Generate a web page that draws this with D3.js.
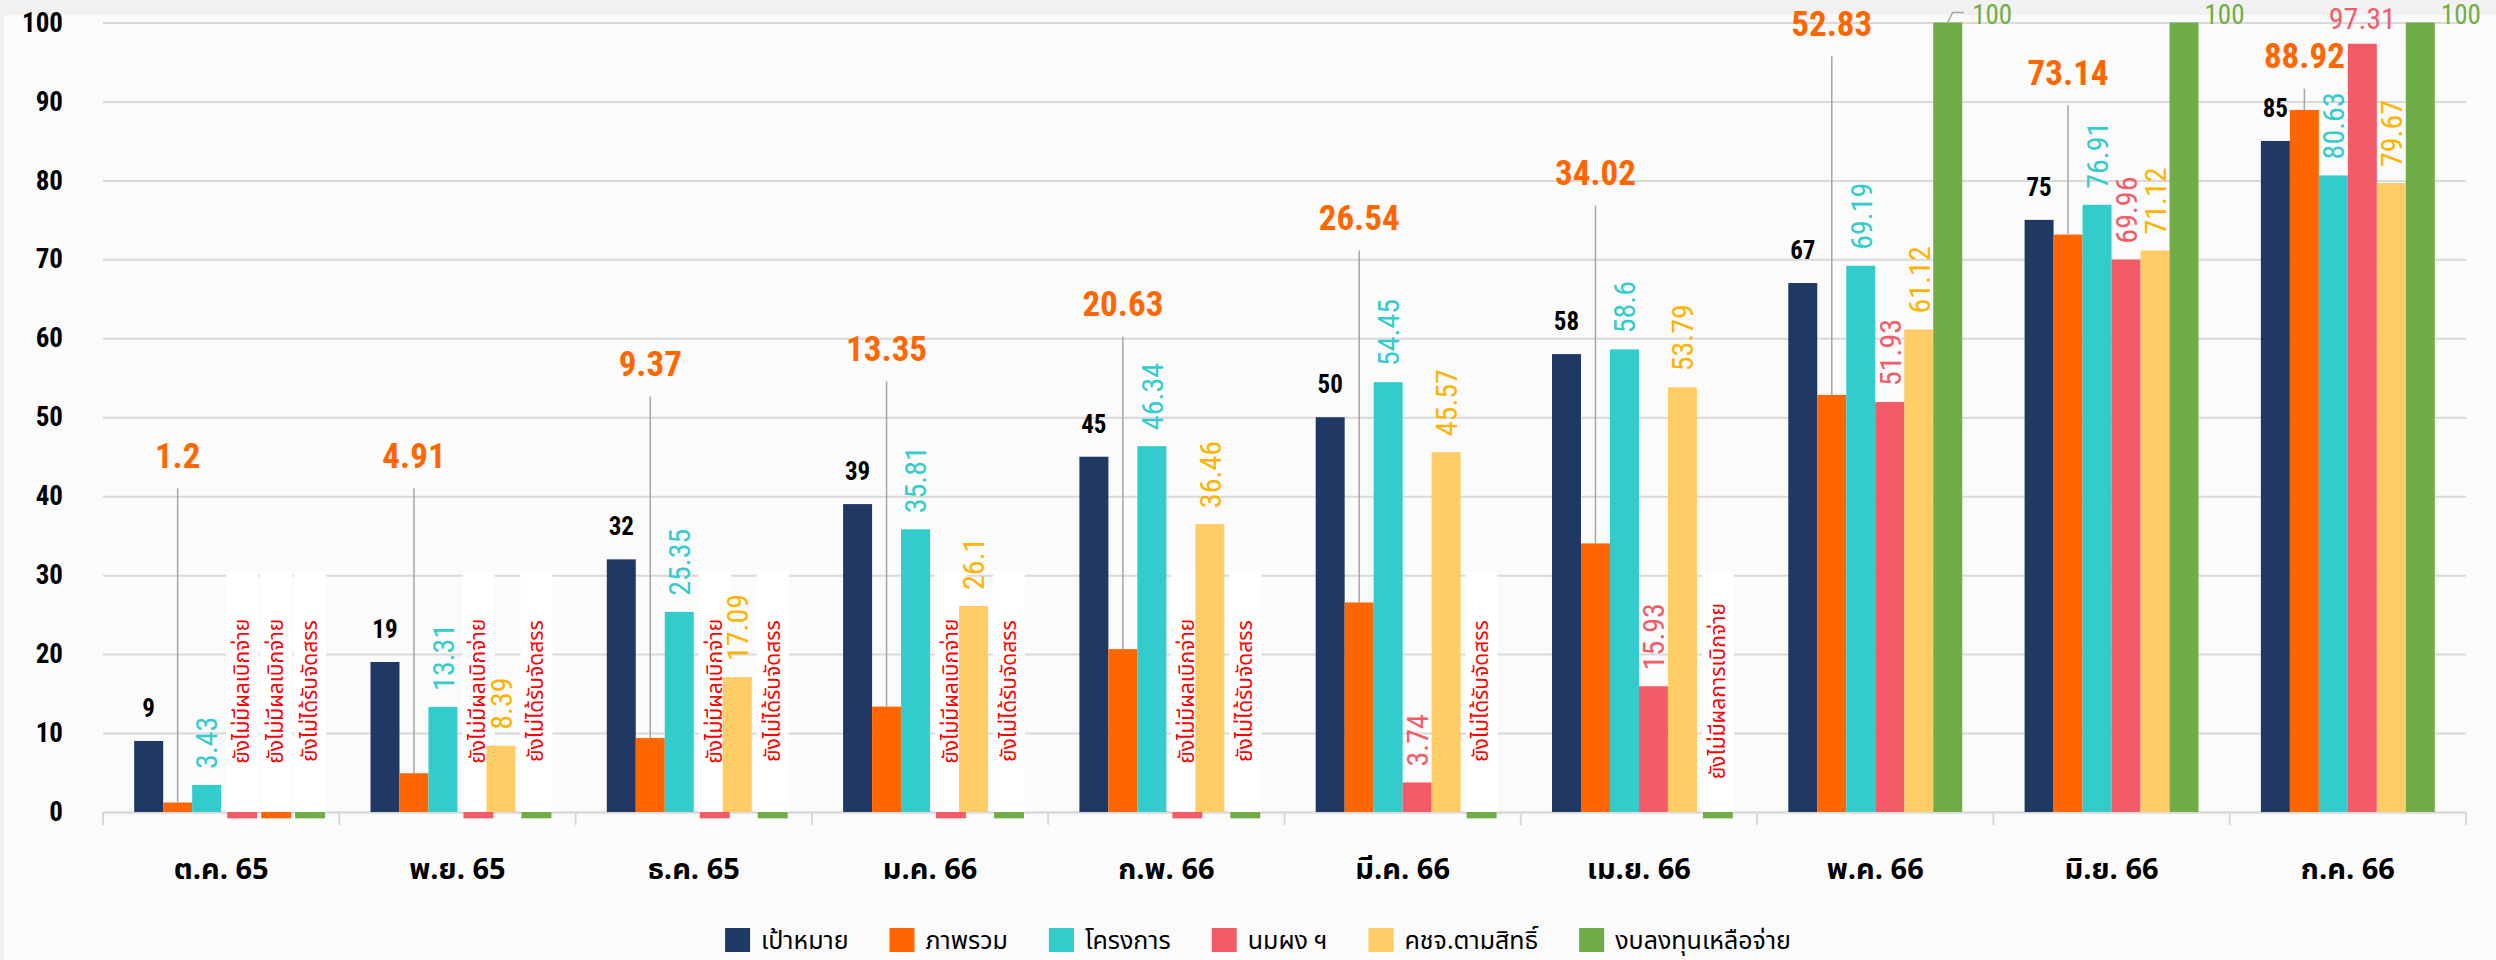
<!DOCTYPE html>
<html>
<head>
<meta charset="utf-8">
<script src="https://cdn.jsdelivr.net/npm/d3@7"></script>
<style>
  body { margin: 0; background: #f1f1f1; }
  svg { display: block; }
</style>
</head>
<body>
<svg width="2496" height="960"></svg>
<script>
// ---- data ----
var months = ["ต.ค. 65", "พ.ย. 65", "ธ.ค. 65", "ม.ค. 66", "ก.พ. 66", "มี.ค. 66", "เม.ย. 66", "พ.ค. 66", "มิ.ย. 66", "ก.ค. 66"];
var seriesNames = ["เป้าหมาย", "ภาพรวม", "โครงการ", "นมผง ฯ", "คชจ.ตามสิทธิ์", "งบลงทุนเหลือจ่าย"];

var target   = [9, 19, 32, 39, 45, 50, 58, 67, 75, 85];
var overall  = [1.2, 4.91, 9.37, 13.35, 20.63, 26.54, 34.02, 52.83, 73.14, 88.92];
var projects = [3.43, 13.31, 25.35, 35.81, 46.34, 54.45, 58.6, 69.19, 76.91, 80.63];
var milk     = [-0.8, -0.8, -0.8, -0.8, -0.8, 3.74, 15.93, 51.93, 69.96, 97.31];
var entitled = [-0.8, 8.39, 17.09, 26.1, 36.46, 45.57, 53.79, 61.12, 71.12, 79.67];
var invest   = [-0.8, -0.8, -0.8, -0.8, -0.8, -0.8, -0.8, 100, 100, 100];

// notes written where a series has nothing yet
var noPay = "ยังไม่มีผลเบิกจ่าย", noAlloc = "ยังไม่ได้รับจัดสรร", noPay2 = "ยังไม่มีผลการเบิกจ่าย";
var milkNote     = [noPay, noPay, noPay, noPay, noPay, null, null, null, null, null];
var entitledNote = [noPay, null, null, null, null, null, null, null, null, null];
var investNote   = [noAlloc, noAlloc, noAlloc, noAlloc, noAlloc, noAlloc, noPay2, null, null, null];

var yTicks = [0, 10, 20, 30, 40, 50, 60, 70, 80, 90, 100];

// level (chart units) where each big "ภาพรวม" label sits
var overallLabelAt = [45.2, 45.2, 56.8, 58.7, 64.4, 75.3, 81, 99.9, 93.7, 95.8];

var colors = ["#203864", "#ff6600", "#33cccc", "#f45b69", "#ffcc66", "#70ad47"];
var labelColors = ["#000000", "#ff6600", "#33cccc", "#f45b69", "#ffb300", "#70ad47"];

var allSeries = [target, overall, projects, milk, entitled, invest];
var allNotes = [null, null, null, milkNote, entitledNote, investNote];

var NUM = "'Liberation Sans Narrow', 'Arial Narrow', 'Roboto Condensed', 'Liberation Sans', sans-serif";
var THAI = "'Noto Sans Thai', 'Noto Sans Thai Looped', 'Loma', 'Garuda', 'Noto Sans', sans-serif";

var svg = d3.select("svg"),
    width = +svg.attr("width"),
    height = +svg.attr("height");

// plot frame
svg.append("rect")
    .attr("x", 4).attr("y", 15)
    .attr("width", width - 4).attr("height", height - 15)
    .attr("fill", "#fbfbfb");

var plotLeft = 103, plotRight = 2466, plotTop = 22.5, plotBottom = 812;

var x0 = d3.scaleBand().domain(months).range([plotLeft, plotRight]);
var bw = x0.bandwidth();
var x1 = d3.scaleBand().domain(d3.range(6)).range([bw * 0.132, bw * 0.868]);

var y = d3.scaleLinear().domain([0, 100]).range([plotBottom, plotTop]);

// gridlines + y labels
var yAxis = d3.axisLeft(y).tickValues(yTicks).tickSize(-(plotRight - plotLeft)).tickPadding(40);
var gy = svg.append("g")
    .attr("transform", "translate(" + plotLeft + ",0)")
    .call(yAxis);
gy.select(".domain").remove();
gy.selectAll(".tick line").attr("stroke", "#d9d9d9").attr("stroke-width", 2);
gy.selectAll(".tick text")
    .style("font-family", NUM)
    .style("font-weight", "bold")
    .style("font-size", "27px")
    .attr("fill", "#000");

// x axis: labels centred, ticks at band edges
var xAxis = d3.axisBottom(x0).tickSize(0).tickPadding(46);
var gx = svg.append("g")
    .attr("transform", "translate(0," + plotBottom + ")")
    .call(xAxis);
gx.select(".domain").attr("stroke", "#d9d9d9").attr("stroke-width", 2);
gx.selectAll(".tick text")
    .style("font-family", THAI)
    .style("font-weight", "bold")
    .style("font-size", "29px")
    .attr("fill", "#000");

var edges = months.map(function(m) { return x0(m); }).concat([plotRight]);
svg.append("g").selectAll("line")
    .data(edges)
    .enter().append("line")
    .attr("x1", function(d) { return d; })
    .attr("x2", function(d) { return d; })
    .attr("y1", plotBottom)
    .attr("y2", plotBottom + 13)
    .attr("stroke", "#d9d9d9")
    .attr("stroke-width", 2);

var chart = svg.append("g");

// white boxes + red notes for empty series
// (boxes sitting side by side are spread a little, like the original)
var noteData = [];
allNotes.forEach(function(notes, s) {
    if (!notes) return;
    notes.forEach(function(t, i) {
        if (!t) return;
        var k = 0;
        while (allNotes[s - 1 - k] && allNotes[s - 1 - k][i]) k++;
        noteData.push({ s: s, i: i, text: t, shift: 6 + 5 * k });
    });
});
function noteX(s, i) {
    var n = noteData.find(function(d) { return d.s === s && d.i === i; });
    return x0(months[i]) + x1(s) + (n ? n.shift : 6);
}

chart.selectAll("rect.notebox")
    .data(noteData)
    .enter().append("rect")
    .attr("class", "notebox")
    .attr("x", function(d) { return noteX(d.s, d.i) - 1; })
    .attr("y", y(30.5))
    .attr("width", x1.bandwidth() + 3)
    .attr("height", y(0) - y(30.5))
    .attr("fill", "#ffffff");

// bars
var barData = [];
allSeries.forEach(function(vals, s) {
    vals.forEach(function(v, i) { barData.push({ s: s, i: i, v: v }); });
});

chart.selectAll("rect.bar")
    .data(barData)
    .enter().append("rect")
    .attr("class", "bar")
    .attr("x", function(d) {
        return d.v < 0 ? noteX(d.s, d.i) : x0(months[d.i]) + x1(d.s);
    })
    .attr("y", function(d) { return y(Math.max(0, d.v)); })
    .attr("width", function(d) { return x1.bandwidth() + (d.v < 0 ? 1 : 0); })
    .attr("height", function(d) { return Math.abs(y(d.v) - y(0)); })
    .attr("fill", function(d) {
        // the empty คชจ. bar in ต.ค. is drawn orange in the original
        if (d.v < 0 && d.s === 4) return colors[1];
        return colors[d.s];
    });

chart.selectAll("text.note")
    .data(noteData)
    .enter().append("text")
    .attr("class", "note")
    .attr("transform", function(d) {
        var cx = noteX(d.s, d.i) + x1.bandwidth() / 2;
        return "translate(" + cx + "," + y(15.3) + ") rotate(-90)";
    })
    .attr("text-anchor", "middle")
    .attr("dy", "0.35em")
    .style("font-family", THAI)
    .style("font-size", "21px")
    .attr("fill", "#ff0000")
    .text(function(d) { return d.text; });

function cxOf(s, i) { return x0(months[i]) + x1(s) + x1.bandwidth() / 2; }

// เป้าหมาย labels
chart.selectAll("text.lab0")
    .data(target)
    .enter().append("text")
    .attr("x", function(d, i) { return cxOf(0, i); })
    .attr("y", function(d) { return y(d) - 24; })
    .attr("text-anchor", "middle")
    .style("font-family", NUM)
    .style("font-weight", "bold")
    .style("font-size", "25px")
    .attr("fill", "#000")
    .text(function(d) { return d; });

// ภาพรวม labels with leader lines
chart.selectAll("line.lead")
    .data(overall)
    .enter().append("line")
    .attr("x1", function(d, i) { return cxOf(1, i); })
    .attr("x2", function(d, i) { return cxOf(1, i); })
    .attr("y1", function(d, i) { return y(overallLabelAt[i]) + 33; })
    .attr("y2", function(d) { return y(d); })
    .attr("stroke", "#a6a6a6")
    .attr("stroke-width", 1.5);

chart.selectAll("text.lab1")
    .data(overall)
    .enter().append("text")
    .attr("x", function(d, i) { return cxOf(1, i); })
    .attr("y", function(d, i) { return y(overallLabelAt[i]); })
    .attr("dy", "0.36em")
    .attr("text-anchor", "middle")
    .style("font-family", NUM)
    .style("font-weight", "bold")
    .style("font-size", "35px")
    .attr("fill", labelColors[1])
    .text(function(d) { return d; });

// rotated labels for โครงการ, นมผง ฯ, คชจ.ตามสิทธิ์
[2, 3, 4].forEach(function(s) {
    var vals = allSeries[s].map(function(v, i) { return { v: v, i: i }; })
        .filter(function(d) { return d.v > 0; });
    chart.selectAll("text.lab" + s)
        .data(vals)
        .enter().append("text")
        .attr("transform", function(d) {
            if (d.v > 90) return "translate(" + cxOf(s, d.i) + "," + (y(d.v) - 15) + ")";
            return "translate(" + cxOf(s, d.i) + "," + (y(d.v) - 16) + ") rotate(-90)";
        })
        .attr("text-anchor", function(d) { return d.v > 90 ? "middle" : "start"; })
        .attr("dy", function(d) { return d.v > 90 ? "0" : "0.36em"; })
        .style("font-family", NUM)
        .style("font-size", "30px")
        .attr("fill", labelColors[s])
        .text(function(d) { return d.v; });
});

// งบลงทุนเหลือจ่าย labels, to the right of the bar top
var investVals = invest.map(function(v, i) { return { v: v, i: i }; })
    .filter(function(d) { return d.v > 0; });
chart.selectAll("text.lab5")
    .data(investVals)
    .enter().append("text")
    .attr("x", function(d) { return x0(months[d.i]) + x1(5) + x1.bandwidth() + (d.i === 7 ? 10 : 6); })
    .attr("y", function(d) { return y(d.v) + 1; })
    .style("font-family", NUM)
    .style("font-size", "27px")
    .attr("fill", labelColors[5])
    .text(function(d) { return d.v; });

// small bent leader on the พ.ค. label
var mx = cxOf(5, 7);
chart.append("path")
    .attr("d", "M" + mx + "," + y(100) + "L" + (mx + 5) + "," + (y(100) - 10) + "L" + (mx + 16) + "," + (y(100) - 10))
    .attr("fill", "none")
    .attr("stroke", "#a6a6a6")
    .attr("stroke-width", 1.5);

// legend
var legend = svg.append("g").attr("transform", "translate(0,940)");
var items = legend.selectAll("g")
    .data(seriesNames)
    .enter().append("g");
items.append("rect")
    .attr("x", 0).attr("y", -12)
    .attr("width", 25).attr("height", 24)
    .attr("fill", function(d, i) { return colors[i]; });
items.append("text")
    .attr("x", 36)
    .attr("dy", "0.35em")
    .style("font-family", THAI)
    .style("font-size", "25px")
    .attr("fill", "#000")
    .text(function(d) { return d; });

var gap = 41, pos = 0, starts = [];
items.each(function() {
    starts.push(pos);
    pos += 36 + d3.select(this).select("text").node().getComputedTextLength() + gap;
});
var total = pos - gap;
var lx = 1258 - total / 2;
items.attr("transform", function(d, i) { return "translate(" + (lx + starts[i]) + ",0)"; });
</script>
</body>
</html>
